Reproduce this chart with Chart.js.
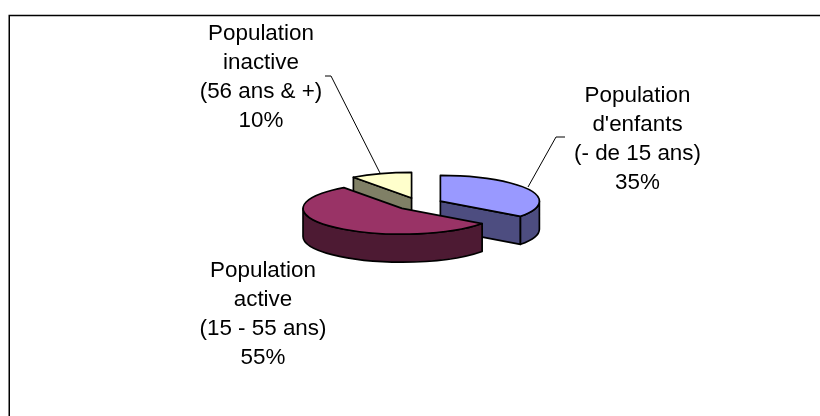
<!DOCTYPE html>
<html>
<head>
<meta charset="utf-8">
<title>Population</title>
<script src="https://cdn.jsdelivr.net/npm/chart.js@4/dist/chart.umd.min.js"></script>
<style>
  html, body { margin: 0; padding: 0; background: #fff; }
  canvas { display: block; }
</style>
</head>
<body>
<canvas id="chart" width="820" height="416"></canvas>
<script>
const categories = ["Population d'enfants", "Population active", "Population inactive"];
const ranges = ["(- de 15 ans)", "(15 - 55 ans)", "(56 ans & +)"];
const shares = [35, 55, 10];

const topColors = ["#9999FF", "#993366", "#FFFFCC"];
const sideColors = ["#4D4D80", "#4D1A33", "#808066"];

// look of the tilted pie
const tilt = 0.26;
const depth = 28;
const explode = 24;
const edge = 1.7;

// where the labels sit, and their leader lines
const labelX = [637.5, 263, 261];
const labelY = [102, 277, 40];
const leaders = [
  [[528, 187], [556, 137], [565, 137]],
  null,
  [[380, 173], [331, 76], [325, 76]]
];

function sliceCenter(arc) {
  const mid = (arc.startAngle + arc.endAngle) / 2;
  return {
    x: arc.x + Math.cos(mid) * explode,
    y: arc.y + Math.sin(mid) * explode * tilt
  };
}

function drawSides(ctx, arc, color) {
  const c = sliceCenter(arc);
  const r = arc.outerRadius;
  const ry = r * tilt;
  const s = arc.startAngle;
  const e = arc.endAngle;
  ctx.fillStyle = color;
  ctx.strokeStyle = "#000";
  ctx.lineWidth = edge;
  ctx.lineJoin = "round";

  // flat faces, only the ones turned towards us
  [[s, -Math.cos(s)], [e, Math.cos(e)]].forEach(([a, facing]) => {
    if (facing <= 0.001) return;
    const px = c.x + Math.cos(a) * r;
    const py = c.y + Math.sin(a) * ry;
    ctx.beginPath();
    ctx.moveTo(c.x, c.y);
    ctx.lineTo(px, py);
    ctx.lineTo(px, py + depth);
    ctx.lineTo(c.x, c.y + depth);
    ctx.closePath();
    ctx.fill();
    ctx.stroke();
  });

  // round wall, front half of the ellipse
  const lo = Math.max(s, 0);
  const hi = Math.min(e, Math.PI);
  if (hi > lo) {
    ctx.beginPath();
    ctx.ellipse(c.x, c.y, r, ry, 0, lo, hi);
    ctx.ellipse(c.x, c.y + depth, r, ry, 0, hi, lo, true);
    ctx.closePath();
    ctx.fill();
    ctx.stroke();
  }
}

function drawTop(ctx, arc) {
  const c = sliceCenter(arc);
  ctx.save();
  ctx.translate(c.x, c.y);
  ctx.scale(1, tilt);
  ctx.translate(-arc.x, -arc.y);
  arc.draw(ctx);
  ctx.restore();

  ctx.strokeStyle = "#000";
  ctx.lineWidth = edge;
  ctx.lineJoin = "round";
  ctx.beginPath();
  ctx.moveTo(c.x, c.y);
  ctx.ellipse(c.x, c.y, arc.outerRadius, arc.outerRadius * tilt, 0, arc.startAngle, arc.endAngle);
  ctx.closePath();
  ctx.stroke();
}

const pie3d = {
  id: "pie3d",
  beforeDraw(chart) {
    // chart frame, open on the right and at the bottom
    const ctx = chart.ctx;
    ctx.save();
    ctx.strokeStyle = "#000";
    ctx.lineWidth = 1.5;
    ctx.beginPath();
    ctx.moveTo(9.25, 416);
    ctx.lineTo(9.25, 15.5);
    ctx.lineTo(820, 15.5);
    ctx.stroke();
    ctx.restore();
  },
  beforeDatasetDraw(chart, args) {
    const ctx = chart.ctx;
    const arcs = args.meta.data;
    const backToFront = arcs.map((a, i) => i).sort((a, b) => {
      const ma = (arcs[a].startAngle + arcs[a].endAngle) / 2;
      const mb = (arcs[b].startAngle + arcs[b].endAngle) / 2;
      return Math.sin(ma) - Math.sin(mb);
    });
    backToFront.forEach(i => drawSides(ctx, arcs[i], sideColors[i]));
    backToFront.forEach(i => drawTop(ctx, arcs[i]));
    return false;
  },
  afterDraw(chart) {
    const ctx = chart.ctx;
    ctx.save();
    ctx.strokeStyle = "#000";
    ctx.lineWidth = 1;
    leaders.forEach(pts => {
      if (!pts) return;
      ctx.beginPath();
      pts.forEach((p, i) => i ? ctx.lineTo(p[0], p[1]) : ctx.moveTo(p[0], p[1]));
      ctx.stroke();
    });

    ctx.fillStyle = "#000";
    ctx.font = "22.4px 'Liberation Sans', Arial, sans-serif";
    ctx.textAlign = "center";
    ctx.textBaseline = "alphabetic";
    categories.forEach((name, i) => {
      const words = name.split(" ");
      const lines = [words[0], words.slice(1).join(" "), ranges[i], shares[i] + "%"];
      lines.forEach((line, j) => ctx.fillText(line, labelX[i], labelY[i] + j * 29));
    });
    ctx.restore();
  }
};

new Chart(document.getElementById("chart"), {
  type: "pie",
  data: {
    labels: categories,
    datasets: [{
      data: shares,
      backgroundColor: topColors,
      borderWidth: 0,
      radius: 99,
      clip: false
    }]
  },
  options: {
    responsive: false,
    animation: false,
    events: [],
    layout: { padding: { left: 18, bottom: 8 } },
    plugins: {
      legend: { display: false },
      tooltip: { enabled: false },
      title: { display: false }
    }
  },
  plugins: [pie3d]
});
</script>
</body>
</html>
